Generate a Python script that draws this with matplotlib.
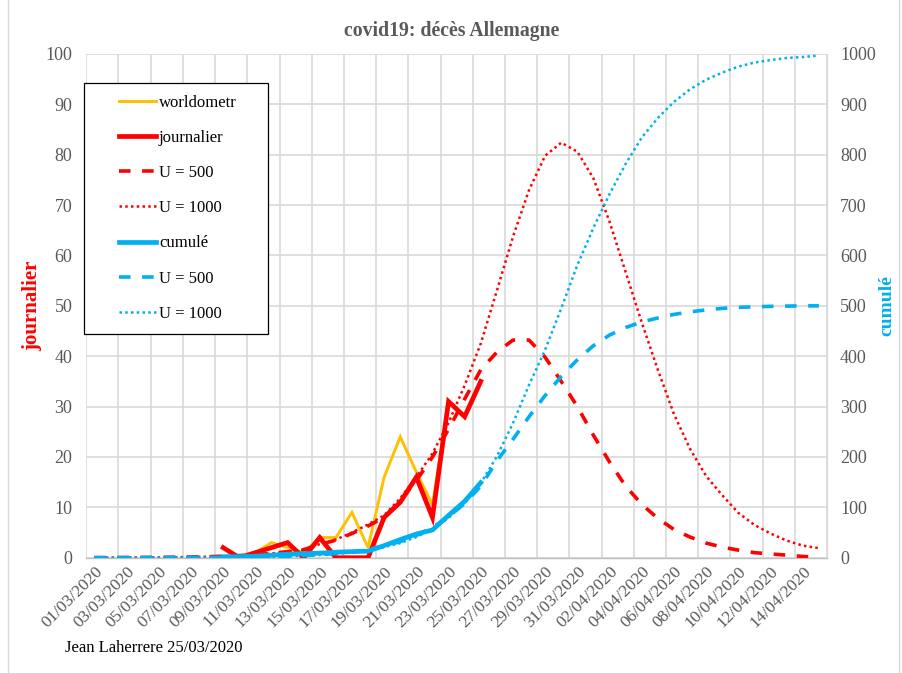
import numpy as np
import matplotlib
matplotlib.use("Agg")
import matplotlib.pyplot as plt
from matplotlib.legend_handler import HandlerLine2D
from matplotlib.lines import Line2D

# ---------------- data ----------------
date_labels = ["01/03/2020", "03/03/2020", "05/03/2020", "07/03/2020", "09/03/2020",
               "11/03/2020", "13/03/2020", "15/03/2020", "17/03/2020", "19/03/2020",
               "21/03/2020", "23/03/2020", "25/03/2020", "27/03/2020", "29/03/2020",
               "31/03/2020", "02/04/2020", "04/04/2020", "06/04/2020", "08/04/2020",
               "10/04/2020", "12/04/2020", "14/04/2020"]
n_days = 46  # 01/03/2020 .. 15/04/2020

# observed data, from 09/03 (day index 8) to 25/03 (day index 24)
obs_start = 8
worldometr = [2, 0, 1, 3, 2, 1, 4, 4, 9, 2, 16, 24, 17, 10.5, 31, 28, 35]
journalier = [2, 0, 1, 2, 3, 0, 4, 0, 0, 0, 8, 11, 16, 8, 31, 28, 35]
cumule = [2, 2, 3, 5, 7, 8, 9, 11, 12, 13, 24, 36, 47, 55, 84, 112, 149]

# model curves, one value per day (01/03 .. 15/04)
daily_u500 = [0.02, 0.03, 0.04, 0.05, 0.07, 0.1, 0.14, 0.2, 0.29, 0.42,
              0.6, 0.85, 1.2, 1.6, 2.6, 3.5, 4.8, 6.3, 8.0, 11.3,
              15.3, 20.0, 25.5, 31.5, 37.3, 40.8, 43.2, 43.2, 39.8, 35.0,
              30.0, 24.3, 19.0, 14.2, 10.6, 7.8, 5.6, 4.1, 2.9, 2.1,
              1.5, 1.0, 0.75, 0.5, 0.25, 0.1]
daily_u1000 = [0.02, 0.03, 0.04, 0.05, 0.07, 0.1, 0.14, 0.2, 0.29, 0.42,
               0.6, 0.85, 1.2, 1.6, 2.7, 3.6, 5.0, 6.6, 8.4, 11.8,
               16.0, 20.7, 26.8, 34.2, 42.5, 53.0, 63.7, 73.0, 79.8, 82.4,
               80.6, 75.3, 66.7, 56.7, 46.7, 37.3, 28.5, 21.6, 16.2, 12.4,
               8.9, 6.5, 4.8, 3.4, 2.4, 1.9]
cum_u500 = [0.05, 0.07, 0.1, 0.14, 0.2, 0.27, 0.38, 0.53, 0.75, 1.05,
            1.5, 2.1, 3.0, 4.2, 5.9, 8.3, 11.7, 16.4, 23, 32,
            44, 60, 81, 108, 142, 192, 235, 280, 322, 360,
            393, 421, 442, 457, 468, 476, 483, 488, 492, 495,
            497, 498, 499, 499.5, 500, 500]
cum_u1000 = [0.04, 0.05, 0.07, 0.1, 0.15, 0.2, 0.3, 0.45, 0.6, 0.9,
             1.3, 1.8, 2.6, 3.7, 5.2, 7.4, 10.5, 15, 21, 29,
             41, 57, 79, 108, 148, 201, 267, 343, 413, 495,
             581, 655, 722, 782, 834, 873, 905, 930, 949, 963,
             975, 983, 988, 992, 994, 997]

# ---------------- style ----------------
ORANGE = "#FFC000"
RED = "#FF0000"
BLUE = "#00B0F0"
GRID = "#D9D9D9"
TXT = "#595959"
SERIF = ["Liberation Serif", "DejaVu Serif"]
plt.rcParams["font.family"] = SERIF

W, H = 903, 673
fig = plt.figure(figsize=(W / 100, H / 100), dpi=100)
L, R, T, B = 86.3, 826.9, 54.0, 557.7
ax = fig.add_axes([L / W, 1 - B / H, (R - L) / W, (B - T) / H])
ax2 = ax.twinx()

days = np.arange(n_days)
obs_days = np.arange(obs_start, obs_start + len(journalier))

DASH = (0, (3.2, 3.2))
DOT = (0, (1, 1.3))

# primary axis (daily)
ax.plot(obs_days, worldometr, color=ORANGE, lw=2.1, solid_joinstyle="miter", zorder=3)
ax.plot(obs_days, journalier, color=RED, lw=3.4, solid_joinstyle="miter", zorder=4)
ax.plot(days, daily_u500, color=RED, lw=2.6, linestyle=DASH, zorder=3)
ax.plot(days, daily_u1000, color=RED, lw=1.8, linestyle=DOT, zorder=3)

# secondary axis (cumulative)
ax2.plot(obs_days, cumule, color=BLUE, lw=3.4, solid_joinstyle="miter", zorder=4)
ax2.plot(days, cum_u500, color=BLUE, lw=2.6, linestyle=DASH, zorder=3)
ax2.plot(days, cum_u1000, color=BLUE, lw=1.8, linestyle=DOT, zorder=3)

# axes limits, ticks, grid
ax.set_xlim(-0.5, n_days - 0.5)
ax.set_ylim(0, 100)
ax2.set_ylim(0, 1000)
ax.set_yticks(np.arange(0, 101, 10))
ax2.set_yticks(np.arange(0, 1001, 100))
ax.set_xticks(np.arange(0, n_days - 1, 2))
ax.set_xticklabels(date_labels, rotation=45, ha="right", va="top",
                   rotation_mode="anchor")
ax.set_xticks(np.arange(-0.5, n_days, 2), minor=True)
ax.grid(True, which="minor", axis="x", color=GRID, lw=1.2)
ax.grid(True, which="major", axis="y", color=GRID, lw=1.2)
ax.grid(False, which="major", axis="x")
ax.set_axisbelow(True)
for a in (ax, ax2):
    for s in a.spines.values():
        s.set_visible(False)
ax.spines["bottom"].set_visible(True)
ax.spines["bottom"].set_color("#BFBFBF")
ax.spines["bottom"].set_linewidth(1.0)
ax.spines["right"].set_visible(True)
ax.spines["right"].set_color(GRID)
ax.tick_params(axis="both", which="both", length=0)
ax.tick_params(axis="y", labelsize=13, labelcolor=TXT, pad=10)
ax.tick_params(axis="x", labelsize=12.5, labelcolor=TXT, pad=4)
ax2.tick_params(axis="y", length=0, labelsize=13, labelcolor=TXT, pad=9.5)

# titles
fig.text(452 / W, 1 - 31 / H, "covid19: décès Allemagne", ha="center", va="center",
         fontsize=14.2, fontweight="bold", color=TXT)
fig.text(32 / W, 1 - 306 / H, "journalier", ha="center", va="center", rotation=90,
         fontsize=15, fontweight="bold", color=RED)
fig.text(887 / W, 1 - 306 / H, "cumulé", ha="center", va="center", rotation=90,
         fontsize=14, fontweight="bold", color=BLUE)
fig.text(65 / W, 1 - 648 / H, "Jean Laherrere 25/03/2020", ha="left", va="center",
         fontsize=12, color="black")

# chart frame (partially visible in the reference)
fig.add_artist(Line2D([8 / W, 8 / W], [0, 1], color=GRID, lw=1.0))
fig.add_artist(Line2D([899 / W, 899 / W], [0, 1], color=GRID, lw=1.0))

# legend
handles = [
    Line2D([], [], color=ORANGE, lw=2.1),
    Line2D([], [], color=RED, lw=3.4),
    Line2D([], [], color=RED, lw=2.6, linestyle=DASH),
    Line2D([], [], color=RED, lw=1.8, linestyle=DOT),
    Line2D([], [], color=BLUE, lw=3.4),
    Line2D([], [], color=BLUE, lw=2.6, linestyle=DASH),
    Line2D([], [], color=BLUE, lw=1.8, linestyle=DOT),
]
labels = ["worldometr", "journalier", "U = 500", "U = 1000", "cumulé", "U = 500", "U = 1000"]
FS = 12
fs_px = FS * 100 / 72
pad = 0.72
xpad = (35 - pad * fs_px) / fs_px
hm = {h: HandlerLine2D(xpad=xpad) for h in handles}
lx0 = (84 - L) / (R - L)
ly1 = (B - 82.7) / (B - T)
lw_ = (268.3 - 84) / (R - L)
leg = ax2.legend(handles, labels, loc="upper left", bbox_to_anchor=(lx0, ly1 - 0.5, lw_, 0.5),
                 mode="expand", fontsize=FS, frameon=True, fancybox=False,
                 edgecolor="black", framealpha=1, borderpad=pad, labelspacing=1.15,
                 handlelength=xpad + 37.4 / fs_px, handletextpad=0.15, borderaxespad=0,
                 handler_map=hm)
leg.get_frame().set_linewidth(0.9)
leg.set_zorder(10)

fig.savefig("out.png", dpi=100)
